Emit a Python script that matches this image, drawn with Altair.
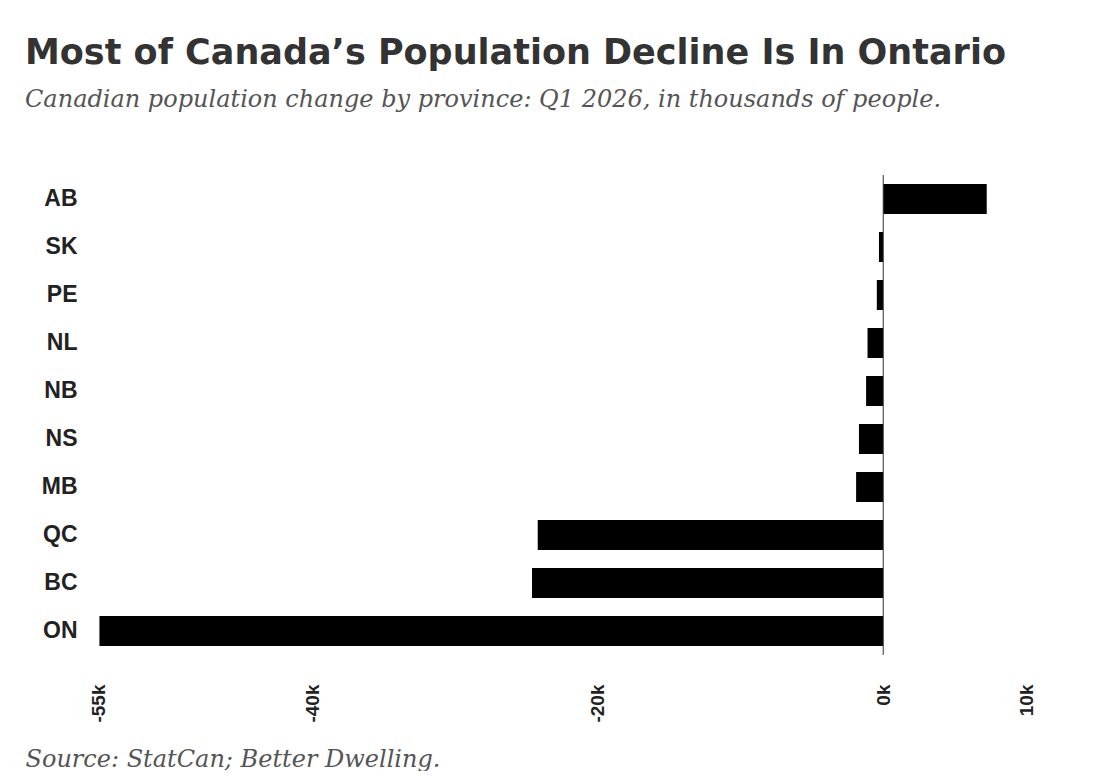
import altair as alt
import pandas as pd

provinces = ["AB", "SK", "PE", "NL", "NB", "NS", "MB", "QC", "BC", "ON"]
change_k = [7.25, -0.3, -0.45, -1.1, -1.2, -1.7, -1.9, -24.2, -24.6, -54.9]
x_ticks = [-55, -40, -20, 0, 10]

df = pd.DataFrame({"province": provinces, "change": change_k})
zero = pd.DataFrame({"x": [0]})

x_scale = alt.Scale(domain=[-55, 10], nice=False, zero=False)

bars = alt.Chart(df).mark_bar(color="#000000").encode(
    x=alt.X(
        "change:Q",
        scale=x_scale,
        axis=alt.Axis(
            values=x_ticks,
            labelExpr="datum.value + 'k'",
            labelAngle=-90,
            labelAlign="right",
            labelBaseline="middle",
            labelFont="Liberation Sans",
            labelFontWeight="bold",
            labelFontSize=19,
            labelColor="#222222",
            labelPadding=29,
            ticks=False,
            domain=False,
            grid=False,
            title="Source: StatCan; Better Dwelling.",
            titleFont="DejaVu Serif",
            titleFontStyle="italic",
            titleFontWeight="normal",
            titleFontSize=24,
            titleColor="#555555",
            titleAnchor="start",
            titleAlign="left",
            titleBaseline="alphabetic",
            titleX=-73,
            titleY=111,
        ),
    ),
    y=alt.Y(
        "province:N",
        sort=provinces,
        scale=alt.Scale(paddingInner=0.375, paddingOuter=0.1875),
        axis=alt.Axis(
            title=None,
            ticks=False,
            domain=False,
            labelFont="Liberation Sans",
            labelFontWeight="bold",
            labelFontSize=23,
            labelColor="#222222",
            labelPadding=21,
        ),
    ),
)

rule = alt.Chart(zero).mark_rule(color="#333333", strokeWidth=1).encode(
    x=alt.X("x:Q", scale=x_scale)
)

chart = alt.layer(bars, rule).properties(
    width=928,
    height=480,
    title=alt.TitleParams(
        text="Most of Canada’s Population Decline Is In Ontario",
        subtitle="Canadian population change by province: Q1 2026, in thousands of people.",
        anchor="start",
        frame="group",
        dx=-73,
        font="DejaVu Sans",
        fontSize=35,
        fontWeight="bold",
        color="#333333",
        subtitleFont="DejaVu Serif",
        subtitleFontStyle="italic",
        subtitleFontSize=24,
        subtitleColor="#555555",
        subtitlePadding=17,
        offset=63,
    ),
).configure(
    background="white",
    padding={"left": 17, "top": 27, "right": 10, "bottom": 0},
).configure_view(stroke=None)

chart.save("out.html", embed_options={"renderer": "svg", "actions": False})
